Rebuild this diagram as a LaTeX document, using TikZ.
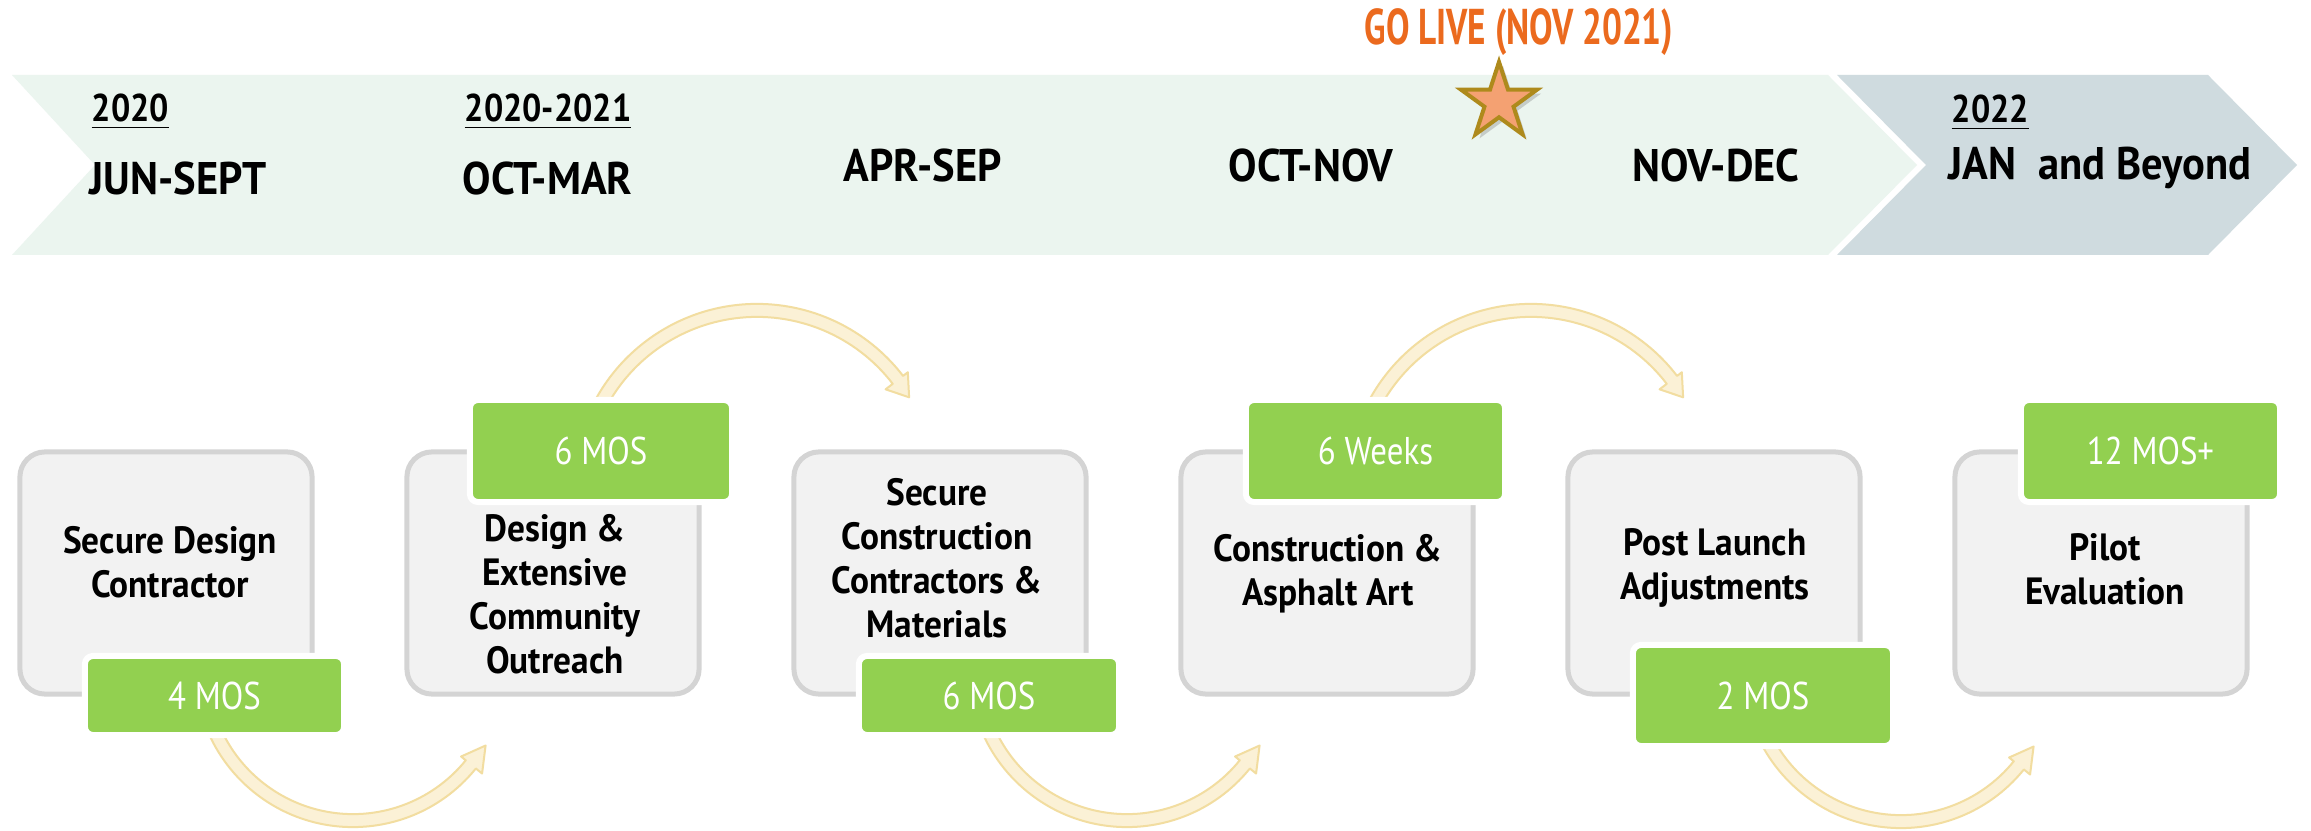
\documentclass[tikz,border=0pt]{standalone}
\usepackage{fontspec}
\setmainfont{PT Sans}
\newfontfamily\boxfont[FakeStretch=0.93]{PT Sans}
\newfontfamily\badgefont[FakeStretch=0.85]{PT Sans}
\newfontfamily\bannerfont[FakeStretch=0.93]{PT Sans}
\newfontfamily\yearfont[FakeStretch=0.88]{PT Sans}
\newfontfamily\livefont[FakeStretch=0.7]{PT Sans}
\usetikzlibrary{shapes.geometric,shadows,calc}
\definecolor{mint}{HTML}{EBF5EF}
\definecolor{slate}{HTML}{CFDBDF}
\definecolor{boxfill}{HTML}{F2F2F2}
\definecolor{boxline}{HTML}{D4D4D4}
\definecolor{badgegreen}{HTML}{92D050}
\definecolor{arrowfill}{HTML}{FBF1D6}
\definecolor{arrowline}{HTML}{F2DDA0}
\definecolor{liveorange}{HTML}{EB6A1E}
\definecolor{starfill}{HTML}{F4A172}
\definecolor{starline}{HTML}{AE8A1C}
\tikzset{
  stagebox/.style={draw=boxline, fill=boxfill, line width=0.05cm, rounded corners=0.25cm,
    minimum width=2.92cm, minimum height=2.42cm, inner sep=0pt},
  stagetext/.style={align=center, inner sep=0pt, font=\boxfont\bfseries\fontsize{10.8}{12.5}\selectfont},
  badge/.style={fill=badgegreen, draw=white, line width=0.06cm, rounded corners=0.08cm,
    inner sep=0pt, text=white, font=\badgefont\fontsize{11}{13}\selectfont},
  yeartext/.style={anchor=base west, inner sep=0pt, font=\yearfont\bfseries\fontsize{11}{13}\selectfont},
  monthtext/.style={anchor=base west, inner sep=0pt, font=\bannerfont\bfseries\fontsize{13}{15}\selectfont},
  flowarrow/.style={fill=arrowfill, draw=arrowline, line width=0.02cm, line join=round},
}
\begin{document}
\begin{tikzpicture}[x=0.01cm, y=0.01cm]
\useasboundingbox (0,0) rectangle (2311,-831);
\fill[white] (0,0) rectangle (2311,-831);

% banner
\fill[mint] (12,-75) -- (1828,-75) -- (1917,-165) -- (1828,-255) -- (12,-255) -- (95,-165) -- cycle;
\fill[slate] (1837,-75) -- (2208,-75) -- (2297,-165) -- (2208,-255) -- (1837,-255) -- (1926,-165) -- cycle;

% banner texts
\node[yeartext] (y1) at (91,-122) {\underline{2020}};
\node[monthtext] (m1) at (89,-195) {JUN-SEPT};
\node[yeartext] (y2) at (464,-122) {\underline{2020-2021}};
\node[monthtext] (m2) at (462,-195) {OCT-MAR};
\node[monthtext] (m3) at (843,-182) {APR-SEP};
\node[monthtext] (m4) at (1228,-182) {OCT-NOV};
\node[monthtext] (m5) at (1632,-182) {NOV-DEC};
\node[yeartext] (y3) at (1951,-123) {\underline{2022}};
\node[monthtext] (m6) at (1948,-180) {JAN~ and Beyond};

% go live
\node[anchor=base, inner sep=0pt, text=liveorange, font=\livefont\bfseries\fontsize{14.3}{16}\selectfont] (live) at (1519,-45) {GO LIVE (NOV 2021)};
\node[star, star points=5, star point ratio=2.618, minimum size=0.8cm, inner sep=0pt,
  fill=starfill, draw=starline, line width=0.04cm,
  drop shadow={opacity=0.35, shadow xshift=0.04cm, shadow yshift=-0.04cm}] (star) at (1499,-102) {};

% stage boxes
\node[stagebox] (b1) at (166,-573) {};
\node[stagebox] (b2) at (553,-573) {};
\node[stagebox] (b3) at (940,-573) {};
\node[stagebox] (b4) at (1327,-573) {};
\node[stagebox] (b5) at (1714,-573) {};
\node[stagebox] (b6) at (2101,-573) {};

% arrow centres
\coordinate (c1) at (353,-669);
\coordinate (c2) at (757,-488);
\coordinate (c3) at (1127,-669);
\coordinate (c4) at (1531,-488);
\coordinate (c5) at (1901,-670);

% bottom arrows
\foreach \c in {c1,c3,c5}{
  \filldraw[flowarrow] ($(\c)+(200:1.45cm)$) arc[start angle=200, end angle=321, radius=1.45cm]
    -- ($(\c)+(321:1.39cm)$) -- ($(\c)+(330:1.53cm)$) -- ($(\c)+(321:1.66cm)$)
    -- ($(\c)+(321:1.58cm)$) arc[start angle=321, end angle=200, radius=1.58cm] -- cycle;
}
% top arrows
\foreach \c in {c2,c4}{
  \filldraw[flowarrow] ($(\c)+(152:1.84cm)$) arc[start angle=152, end angle=37.5, radius=1.84cm]
    -- ($(\c)+(37.5:1.90cm)$) -- ($(\c)+(30.8:1.77cm)$) -- ($(\c)+(37.5:1.62cm)$)
    -- ($(\c)+(37.5:1.71cm)$) arc[start angle=37.5, end angle=152, radius=1.71cm] -- cycle;
}

% badges
\node[badge, minimum width=2.59cm, minimum height=0.79cm] (d1) at (214.5,-695.5) {4 MOS};
\node[badge, minimum width=2.62cm, minimum height=1.02cm] (d2) at (601,-451) {6 MOS};
\node[badge, minimum width=2.60cm, minimum height=0.79cm] (d3) at (989,-695.5) {6 MOS};
\node[badge, minimum width=2.59cm, minimum height=1.02cm] (d4) at (1375.5,-451) {6 Weeks};
\node[badge, minimum width=2.60cm, minimum height=1.01cm] (d5) at (1763,-695.5) {2 MOS};
\node[badge, minimum width=2.59cm, minimum height=1.02cm] (d6) at (2150.5,-451) {12 MOS+};

% stage texts
\node[stagetext] (t1) at (170,-562) {Secure Design\\Contractor};
\node[stagetext] (t2) at (555,-594) {Design \&\\Extensive\\Community\\Outreach};
\node[stagetext] (t3) at (937,-558) {Secure\\Construction\\Contractors \&\\Materials};
\node[stagetext] (t4) at (1328,-574) {Construction \&\\Asphalt Art};
\node[stagetext] (t5) at (1715,-568) {Post Launch\\Adjustments};
\node[stagetext] (t6) at (2105,-569) {Pilot\\Evaluation};
\end{tikzpicture}
\end{document}
